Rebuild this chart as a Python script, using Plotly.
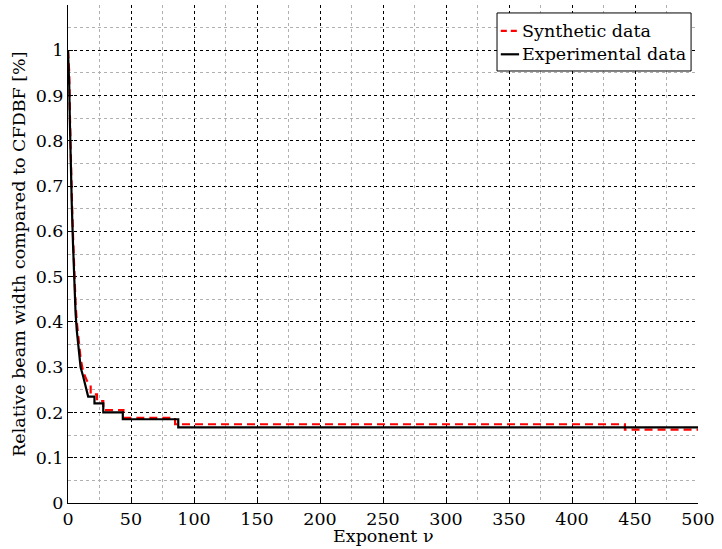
import plotly.graph_objects as go

# Experimental data (black solid)
exp_nu = [0, 0.5, 1, 1.5, 2, 3, 4, 5, 6, 7, 8, 10, 12, 13, 15, 16, 21, 21, 28, 28, 43.5, 43.5, 87.5, 87.5, 500]
exp_val = [1.0, 0.97, 0.92, 0.84, 0.75, 0.66, 0.57, 0.49, 0.42, 0.38, 0.35, 0.30, 0.28, 0.27, 0.25, 0.235, 0.235, 0.22, 0.22, 0.2, 0.2, 0.185, 0.185, 0.167, 0.167]

# Synthetic data (red dashed)
syn_nu = [0, 0.5, 1, 1.5, 2, 3, 4, 5, 6, 7, 8, 10, 12, 15, 18, 18, 23, 23, 28, 28, 44, 44, 85, 85, 442, 442, 500]
syn_val = [1.0, 0.98, 0.95, 0.86, 0.78, 0.68, 0.59, 0.51, 0.44, 0.40, 0.37, 0.32, 0.29, 0.27, 0.26, 0.24, 0.24, 0.225, 0.225, 0.205, 0.205, 0.188, 0.188, 0.174, 0.174, 0.162, 0.162]

series_names = ["Synthetic data", "Experimental data"]

x_ticks = [0, 50, 100, 150, 200, 250, 300, 350, 400, 450, 500]
y_ticks = [0, 0.1, 0.2, 0.3, 0.4, 0.5, 0.6, 0.7, 0.8, 0.9, 1]
y_tick_text = ["0", "0.1", "0.2", "0.3", "0.4", "0.5", "0.6", "0.7", "0.8", "0.9", "1"]
x_minor = [25, 75, 125, 175, 225, 275, 325, 375, 425, 475]
y_minor = [0.05, 0.15, 0.25, 0.35, 0.45, 0.55, 0.65, 0.75, 0.85, 0.95, 1.05, 1.1]

x_title = "Exponent ν"
y_title = "Relative beam width compared to CFDBF [%]"

FONT = "DejaVu Serif"
FS = 17.5
TICKFONT = dict(family=FONT, size=FS, color="black")

fig = go.Figure()
fig.add_trace(go.Scatter(x=syn_nu, y=syn_val, mode="lines", name=series_names[0],
                         line=dict(color="#ff0000", width=2.2, dash="8px,5px")))
fig.add_trace(go.Scatter(x=exp_nu, y=exp_val, mode="lines", name=series_names[1],
                         line=dict(color="#000000", width=2.2)))

# Legend drawn as a box (paper coordinates) in the upper-right corner
LX0, LX1, LY0, LY1 = 0.681, 0.989, 0.8675, 0.984
S0, S1, TX = 0.687, 0.716, 0.719
ROW_Y = [0.948, 0.901]

shapes = [
    dict(type="rect", xref="paper", yref="paper", x0=LX0, x1=LX1, y0=LY0, y1=LY1,
         line=dict(color="black", width=1), fillcolor="white", layer="above"),
    dict(type="line", xref="paper", yref="paper", x0=S0, x1=S1, y0=ROW_Y[0], y1=ROW_Y[0],
         line=dict(color="#ff0000", width=2.2, dash="6px,4px"), layer="above"),
    dict(type="line", xref="paper", yref="paper", x0=S0, x1=S1, y0=ROW_Y[1], y1=ROW_Y[1],
         line=dict(color="#000000", width=2.2), layer="above"),
]
annotations = [
    dict(text=series_names[i], xref="paper", yref="paper", x=TX, y=ROW_Y[i],
         xanchor="left", yanchor="middle", showarrow=False, borderpad=0,
         font=dict(family=FONT, size=FS)) for i in range(2)
] + [
    dict(text=x_title, xref="paper", yref="paper", x=0.5, y=-0.0663,
         xanchor="center", yanchor="middle", showarrow=False, borderpad=0,
         font=dict(family=FONT, size=FS)),
    dict(text=y_title, xref="paper", yref="paper", x=-0.078, y=0.5,
         xanchor="center", yanchor="middle", textangle=-90, showarrow=False,
         font=dict(family=FONT, size=FS)),
]

fig.update_layout(
    width=722, height=549,
    margin=dict(l=68, r=24, t=5, b=46),
    paper_bgcolor="white", plot_bgcolor="white",
    font=dict(family=FONT, size=FS, color="black"),
    showlegend=False,
    shapes=shapes,
    annotations=annotations,
)
fig.update_xaxes(
    range=[0, 500], tickvals=x_ticks, ticks="inside", ticklen=5, tickcolor="black",
    tickfont=TICKFONT,
    showline=True, linecolor="black", linewidth=1, mirror=False,
    showgrid=True, gridcolor="black", griddash="dot", gridwidth=1,
    minor=dict(tickvals=x_minor, showgrid=True,
               gridcolor="#b0b0b0", griddash="dot", gridwidth=1),
    zeroline=False, ticklabelstandoff=0,
)
fig.update_yaxes(
    range=[0, 1.1], tickvals=y_ticks, ticktext=y_tick_text, ticks="inside", ticklen=5,
    tickfont=TICKFONT,
    tickcolor="black", showline=True, linecolor="black", linewidth=1, mirror=False,
    showgrid=True, gridcolor="black", griddash="dot", gridwidth=1,
    minor=dict(tickvals=y_minor,
               showgrid=True, gridcolor="#b0b0b0", griddash="dot", gridwidth=1),
    zeroline=False, ticklabelstandoff=0,
)

fig.write_html("out.html", config={"displayModeBar": False},
               post_script="document.body.style.margin='0';document.body.style.overflow='hidden';")
